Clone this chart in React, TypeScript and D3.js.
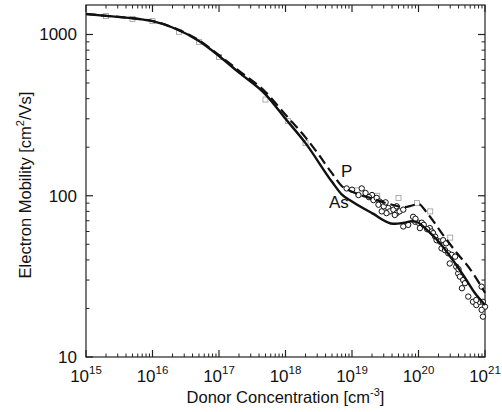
import React from "react";
import * as d3 from "d3";

// Solid curve (As)
const asCurveX = [1e15, 2e15, 5e15, 1e16, 2e16, 5e16, 1e17, 2e17, 5e17, 1e18, 2e18, 5e18, 7e18, 1e19, 2e19, 4.2e19, 6e19, 8e19, 1e20, 1.3e20, 2e20, 3e20, 5e20, 7e20, 1e21];
const asCurveY = [1340, 1305, 1260, 1210, 1105, 910, 735, 580, 425, 300, 212, 122, 102, 92, 78, 67, 68, 69.5, 68, 62, 52, 42, 31, 25, 21];
// Dashed curve (P)
const pCurveX = [1e15, 2e15, 5e15, 1e16, 2e16, 5e16, 1e17, 2e17, 5e17, 1e18, 2e18, 3e18, 5e18, 7e18, 1e19, 2e19, 4e19, 6e19, 8e19, 1e20, 1.35e20, 2.35e20, 3.8e20, 6e20, 1e21];
const pCurveY = [1340, 1305, 1262, 1212, 1110, 920, 745, 595, 440, 318, 230, 185, 138, 115, 106, 96, 88, 85, 87, 89, 78, 57, 44, 35, 25];

// Measured data (open circles)
const circleX = [8.3e18, 1.0e19, 1.4e19, 1.25e19, 2.0e19, 2.1e19, 2.35e19, 2.6e19, 2.5e19, 2.95e19, 3.5e19, 3.7e19, 4.2e19, 4.7e19, 4.7e19, 3.3e19, 5.2e19, 5.9e19, 2.8e19, 8.3e19, 8.9e19, 1.0e20, 1.12e20, 1.05e20, 5.9e19, 1.48e20, 1.58e20, 1.66e20, 1.78e20, 1.87e20, 2.1e20, 2.35e20, 2.6e20, 2.22e20, 2.5e20, 2.8e20, 3.16e20, 3.55e20, 2.95e20, 3.7e20, 3.95e20, 4.2e20, 4.7e20, 5.0e20, 4.5e20, 5.6e20, 6.6e20, 7.4e20, 8.3e20, 9.3e20, 1e21, 8.9e20, 9.3e20, 8.9e20, 7.4e20, 7.0e19, 9.0e19, 1.6e19, 3.0e19, 4.4e19, 1.8e19, 3.2e19, 1.2e20, 1.35e20, 4.0e20];
const circleY = [111, 109, 111, 101, 101, 94, 97, 92, 88, 90, 84, 80, 82, 86, 78, 78, 80, 82, 80, 74, 69, 68, 68, 63, 64.5, 63, 60, 58.6, 55.7, 53, 52, 53, 50.7, 47.2, 46, 44, 43, 41.9, 38, 36.3, 33, 31.5, 30, 28.7, 26.7, 23.7, 22, 21, 22, 22, 20.5, 19.6, 17.8, 27.3, 22.6, 66, 72, 104, 86, 76, 98, 91, 66, 62, 35];

// Measured data (open squares, light)
const squareX = [2e15, 5e15, 1e16, 2.5e16, 5e16, 1e17, 5e17, 1.1e18, 2e18, 1.2e19, 2.4e19, 5.0e19, 9.5e19, 1.5e20, 3e20];
const squareY = [1300, 1250, 1210, 1040, 900, 725, 395, 290, 212, 108, 100, 97, 90, 80, 55];

const xTickExps = [15, 16, 17, 18, 19, 20, 21];
const yTickVals = [10, 100, 1000];

const W = 502;
const H = 412;
const L = 86, R = 485, T = 5, B = 357;

export default function App() {
  const x = d3.scaleLog().domain([1e15, 1e21]).range([L, R]);
  const yTop = Math.pow(10, 3 + 29.5 / 161.3);
  const y = d3.scaleLog().domain([10, yTop]).range([B, T]);

  const line = d3
    .line<[number, number]>()
    .x((d) => x(d[0]))
    .y((d) => y(d[1]))
    .curve(d3.curveMonotoneX);

  const asPts = asCurveX.map((v, i) => [v, asCurveY[i]] as [number, number]);
  const pPts = pCurveX.map((v, i) => [v, pCurveY[i]] as [number, number]);

  // ticks
  const xMinor: number[] = [];
  for (let e = 15; e < 21; e++) for (let k = 2; k <= 9; k++) xMinor.push(k * Math.pow(10, e));
  const yMinor: number[] = [];
  for (let e = 1; e <= 3; e++)
    for (let k = 2; k <= 9; k++) {
      const v = k * Math.pow(10, e);
      if (v <= yTop) yMinor.push(v);
    }

  const font = "'Liberation Sans', Arial, Helvetica, sans-serif";
  const stroke = "#222";

  return (
    <div style={{ position: "absolute", left: 0, top: 0 }}>
      <svg width={W} height={H} style={{ display: "block", background: "#fff" }} fontFamily={font}>
        {/* frame */}
        <rect x={L} y={T} width={R - L} height={B - T} fill="none" stroke={stroke} strokeWidth={1.2} />
        {/* x ticks */}
        {xTickExps.map((e) => {
          const px = x(Math.pow(10, e));
          return (
            <g key={"xt" + e}>
              <line x1={px} x2={px} y1={B} y2={B - 7} stroke={stroke} strokeWidth={1.2} />
              <line x1={px} x2={px} y1={T} y2={T + 7} stroke={stroke} strokeWidth={1.2} />
            </g>
          );
        })}
        {xMinor.map((v, i) => {
          const px = x(v);
          return (
            <g key={"xm" + i}>
              <line x1={px} x2={px} y1={B} y2={B - 3.5} stroke={stroke} strokeWidth={1} />
              <line x1={px} x2={px} y1={T} y2={T + 3.5} stroke={stroke} strokeWidth={1} />
            </g>
          );
        })}
        {/* y ticks */}
        {yTickVals.map((v) => {
          const py = y(v);
          return (
            <g key={"yt" + v}>
              <line x1={L} x2={L + 7} y1={py} y2={py} stroke={stroke} strokeWidth={1.2} />
              <line x1={R} x2={R - 7} y1={py} y2={py} stroke={stroke} strokeWidth={1.2} />
            </g>
          );
        })}
        {yMinor.map((v, i) => {
          const py = y(v);
          return (
            <g key={"ym" + i}>
              <line x1={L} x2={L + 3.5} y1={py} y2={py} stroke={stroke} strokeWidth={1} />
              <line x1={R} x2={R - 3.5} y1={py} y2={py} stroke={stroke} strokeWidth={1} />
            </g>
          );
        })}
        {/* x tick labels */}
        {xTickExps.map((e) => (
          <text key={"xl" + e} x={x(Math.pow(10, e))} y={382} fontSize={17} textAnchor="middle" fill="#111">
            10
            <tspan fontSize={11.5} dy={-8}>
              {e}
            </tspan>
          </text>
        ))}
        {/* y tick labels */}
        {yTickVals.map((v) => (
          <text key={"yl" + v} x={77} y={y(v) + 6} fontSize={17} textAnchor="end" fill="#111">
            {v}
          </text>
        ))}
        {/* axis titles */}
        <text x={(L + R) / 2} y={403} fontSize={16.5} textAnchor="middle" fill="#111">
          Donor Concentration [cm
          <tspan fontSize={11} dy={-7}>-3</tspan>
          <tspan dy={7}>]</tspan>
        </text>
        <text
          transform={`translate(31, ${(T + B) / 2 + 4}) rotate(-90)`}
          fontSize={16.5}
          textAnchor="middle"
          fill="#111"
        >
          Electron Mobility [cm
          <tspan fontSize={11} dy={-7}>2</tspan>
          <tspan dy={7}>/Vs]</tspan>
        </text>

        {/* squares */}
        {squareX.map((v, i) => (
          <rect
            key={"sq" + i}
            x={x(v) - 2.5}
            y={y(squareY[i]) - 2.5}
            width={5}
            height={5}
            fill="none"
            stroke="#999"
            strokeWidth={0.8}
          />
        ))}
        {/* circles */}
        {circleX.map((v, i) => (
          <circle
            key={"c" + i}
            cx={x(v)}
            cy={y(circleY[i])}
            r={2.7}
            fill="#fff"
            stroke="#111"
            strokeWidth={1}
          />
        ))}

        {/* curves */}
        <path d={line(pPts) || ""} fill="none" stroke="#111" strokeWidth={2.2} strokeDasharray="10,5" />
        <path d={line(asPts) || ""} fill="none" stroke="#111" strokeWidth={2.4} />

        {/* labels */}
        <text x={341} y={177} fontSize={17} fill="#111">P</text>
        <text x={329} y={208} fontSize={17} fill="#111">As</text>
      </svg>
    </div>
  );
}
